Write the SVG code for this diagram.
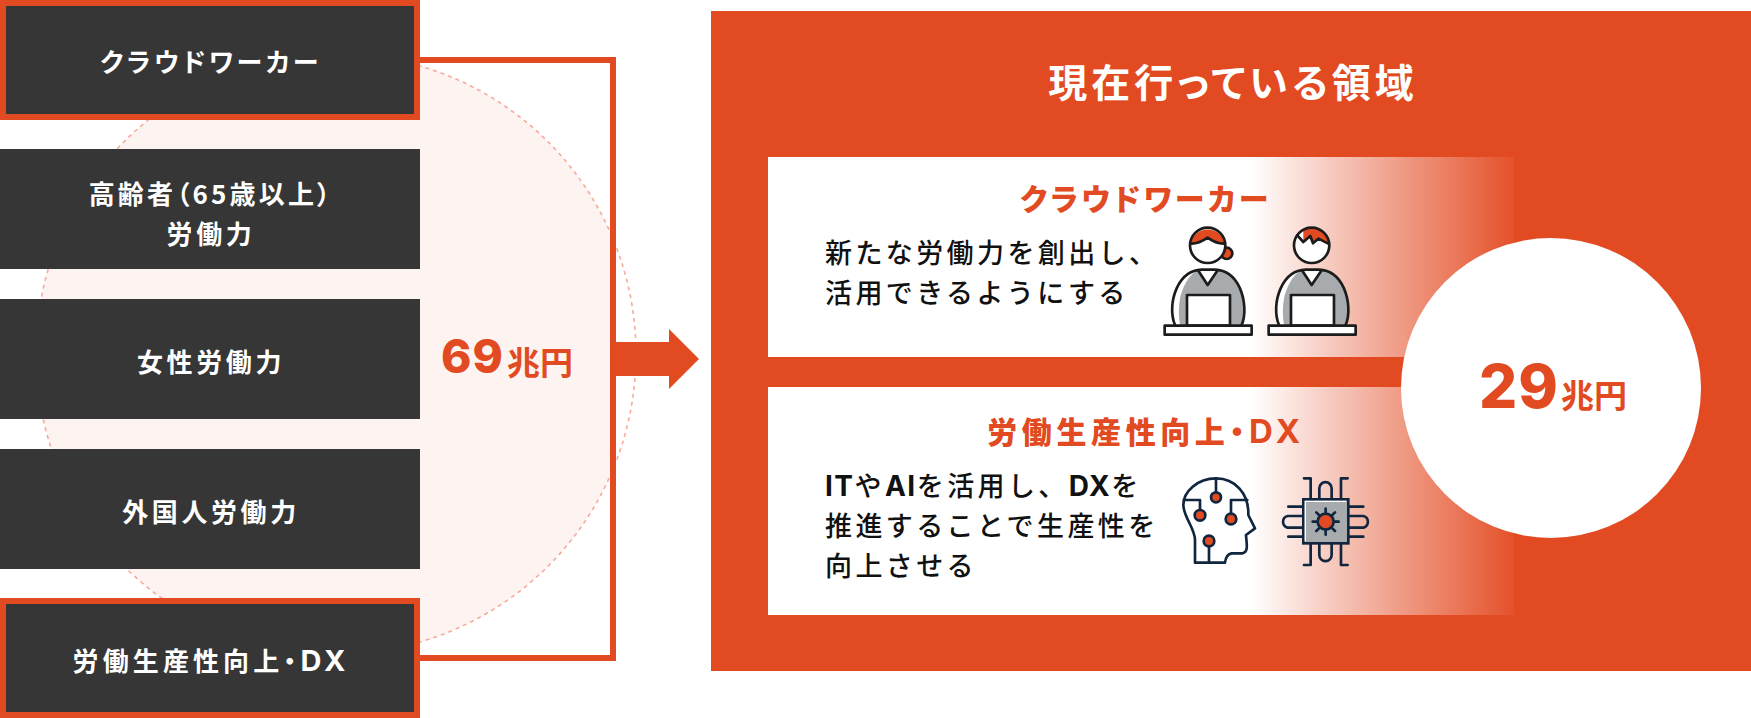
<svg xmlns="http://www.w3.org/2000/svg" width="1751" height="718" viewBox="0 0 1751 718">
<style>
text{font-family:"Noto Sans CJK JP","Noto Sans",sans-serif;font-weight:700}
.box{fill:#363636}
.hl{stroke:#e24a22;stroke-width:6}
.bl{fill:#fff;font-size:26px;letter-spacing:3.6px;text-anchor:middle;font-weight:700;font-feature-settings:"palt"}
.tt{fill:#e24a22;font-size:30px;letter-spacing:3.6px;text-anchor:middle;font-weight:900;font-feature-settings:"palt"}
.bd{fill:#111;font-size:27px;letter-spacing:3.4px;font-weight:500}
.num{fill:#e24a22;font-family:Inter,"Liberation Sans",sans-serif;font-weight:800}
.unit{fill:#e24a22;font-size:33px;font-feature-settings:"palt"}
.lat{font-family:Inter,"Liberation Sans",sans-serif;font-weight:700}
.k{fill:none;stroke:#1c1c1c;stroke-width:8;stroke-linejoin:round;stroke-linecap:round}
.n{fill:none;stroke:#10263f;stroke-width:8;stroke-linejoin:round;stroke-linecap:round}
.d{fill:#e24a22;stroke:#10263f;stroke-width:8}
</style>
<defs>
<linearGradient id="fade" gradientUnits="userSpaceOnUse" x1="1251" y1="0" x2="1514" y2="0">
<stop offset="0" stop-color="#fff"/><stop offset="1" stop-color="#e4512a"/>
</linearGradient>
<clipPath id="inner"><rect x="0" y="0" width="612" height="718"/></clipPath>
<g id="body">
<path d="M135 375C122 345 124 300 140 265C155 232 180 210 215 209H255C290 210 315 232 330 265C345 300 348 345 335 375Z" fill="#a7abad"/>
<path d="M135 375C124 345 126 300 142 265C155 235 175 218 198 212C172 232 158 262 150 295C145 325 146 350 150 375Z" fill="#fff"/>
<path d="M205 212L233 255L262 212Z" fill="#fff"/>
<path class="k" d="M135 375C122 345 124 300 140 265C155 232 180 210 215 209H255C290 210 315 232 330 265C345 300 348 345 335 375"/>
<path class="k" d="M205 212L233 255L262 212"/>
<rect x="171" y="285" width="129" height="92" fill="#fff" stroke="#1c1c1c" stroke-width="8" stroke-linejoin="round"/>
<rect x="104" y="377" width="261" height="27" fill="#fff" stroke="#1c1c1c" stroke-width="8" stroke-linejoin="round"/>
</g>
</defs>
<rect width="1751" height="718" fill="#fff"/>
<g id="circle-69">
<circle cx="336" cy="354" r="300" fill="#fdf3f1" clip-path="url(#inner)"/>
<circle cx="336" cy="354" r="300" fill="none" stroke="#f6ab9b" stroke-width="1.6" stroke-dasharray="4 4"/>
<text class="num" x="441" y="373" font-size="46" letter-spacing="1">69</text>
<text class="unit" x="507" y="375">兆円</text>
</g>
<g id="connectors">
<path d="M420 60H613V658H420" fill="none" stroke="#e24a22" stroke-width="6"/>
<path d="M610 342H669V329L699 359L669 389V376H610Z" fill="#e24a22"/>
</g>
<g id="node-crowd">
<rect class="box hl" x="3" y="3" width="414" height="114"/>
<text class="bl" x="211" y="72">クラウドワーカー</text>
</g>
<g id="node-elderly">
<rect class="box" x="0" y="149" width="420" height="120"/>
<text class="bl" x="211" y="204" style="letter-spacing:3.2px">高齢者（65歳以上）</text>
<text class="bl" x="211" y="244">労働力</text>
</g>
<g id="node-women">
<rect class="box" x="0" y="299" width="420" height="120"/>
<text class="bl" x="211" y="372">女性労働力</text>
</g>
<g id="node-foreign">
<rect class="box" x="0" y="449" width="420" height="120"/>
<text class="bl" x="211" y="522">外国人労働力</text>
</g>
<g id="node-dx">
<rect class="box hl" x="3" y="601" width="414" height="114"/>
<text class="bl" x="211" y="671" style="letter-spacing:4.1px">労働生産性向上・<tspan class="lat" font-size="29">DX</tspan></text>
</g>
<g id="panel">
<rect x="711" y="11" width="1040" height="660" fill="#e24a22"/>
<text x="1233" y="97" fill="#fff" font-size="39" letter-spacing="4" text-anchor="middle" font-weight="900" style="font-feature-settings:'palt'">現在行っている領域</text>
</g>
<g id="card-crowd">
<rect x="768" y="157" width="746" height="200" fill="url(#fade)"/>
<text class="tt" x="1146" y="210">クラウドワーカー</text>
<text class="bd" x="825" y="263">新たな労働力を創出し、</text>
<text class="bd" x="825" y="303">活用できるようにする</text>
<g transform="translate(1130 200) scale(.3333)">
<circle cx="290" cy="160" r="17" fill="#e24a22" stroke="#1c1c1c" stroke-width="8"/>
<circle cx="233" cy="136" r="53" fill="#fff"/>
<path d="M181 131A53 53 0 0 1 285 131C262 131 245 122 233 113C220 122 205 131 181 131Z" fill="#e24a22"/>
<path class="k" d="M185 131C205 131 220 122 233 113C245 122 262 131 281 131"/>
<circle class="k" cx="233" cy="136" r="53"/>
<use href="#body"/>
<use href="#body" x="312"/>
<circle cx="545" cy="136" r="53" fill="#fff"/>
<path d="M520 90A53 53 0 0 1 597 131L565 116L549 130L541 108L520 125Z" fill="#e24a22"/>
<path class="k" d="M502 106L520 126L541 108L549 130L565 116L595 131"/>
<circle class="k" cx="545" cy="136" r="53"/>
</g>
</g>
<g id="card-dx">
<rect x="768" y="387" width="746" height="228" fill="url(#fade)"/>
<text class="tt" x="1146" y="443" style="letter-spacing:4.6px">労働生産性向上・<tspan class="lat" font-weight="800" font-size="33">DX</tspan></text>
<text class="bd" x="825" y="496"><tspan class="lat" font-size="28" letter-spacing="1.5">IT</tspan>や<tspan class="lat" font-size="28" letter-spacing="1.5">AI</tspan>を活用し、<tspan class="lat" font-size="28" letter-spacing="1.5">DX</tspan>を</text>
<text class="bd" x="825" y="536">推進することで生産性を</text>
<text class="bd" x="825" y="576">向上させる</text>
<g transform="translate(1160 460) scale(.3333)">
<path class="n" d="M105 308H195C197 292 202 282 215 280H248C262 276 261 262 260 248L258 225L285 205L265 165C267 100 225 55 168 55C112 55 70 95 70 135C70 170 105 205 105 240Z" fill="#fff"/>
<path class="n" d="M168 55V95M72 120H120V150M262 120H213V160M147 258V308"/>
<circle class="d" cx="168" cy="112" r="15"/>
<circle class="d" cx="120" cy="166" r="16"/>
<circle class="d" cx="213" cy="177" r="16"/>
<circle class="d" cx="147" cy="243" r="16"/>
<path class="n" d="M432 55H452V118M563 55H543V118M478 118V85A18 18 0 0 1 515 85V118M432 315H452V250M563 315H543V250M478 250V285A18 18 0 0 0 515 285V250M385 140H430M385 230H430M430 168H383A18 18 0 0 0 383 203H430M565 140H610M565 230H610M565 168H610A18 18 0 0 1 610 203H565"/>
<rect x="430" y="118" width="135" height="132" fill="#a7abad" stroke="#10263f" stroke-width="8"/>
<path d="M436 244V124H559" fill="none" stroke="#fff" stroke-width="4"/>
<path class="n" d="M497 146V157M497 213V224M458 185H469M525 185H536M469 157L477 165M525 157L517 165M469 213L477 205M525 213L517 205"/>
<circle cx="497" cy="185" r="24" fill="#e24a22" stroke="#10263f" stroke-width="8"/>
</g>
</g>
<g id="circle-29">
<circle cx="1551" cy="388" r="150" fill="#fff"/>
<text class="num" x="1479" y="408" font-size="60" letter-spacing="1">29</text>
<text class="unit" x="1561" y="408">兆円</text>
</g>
</svg>
